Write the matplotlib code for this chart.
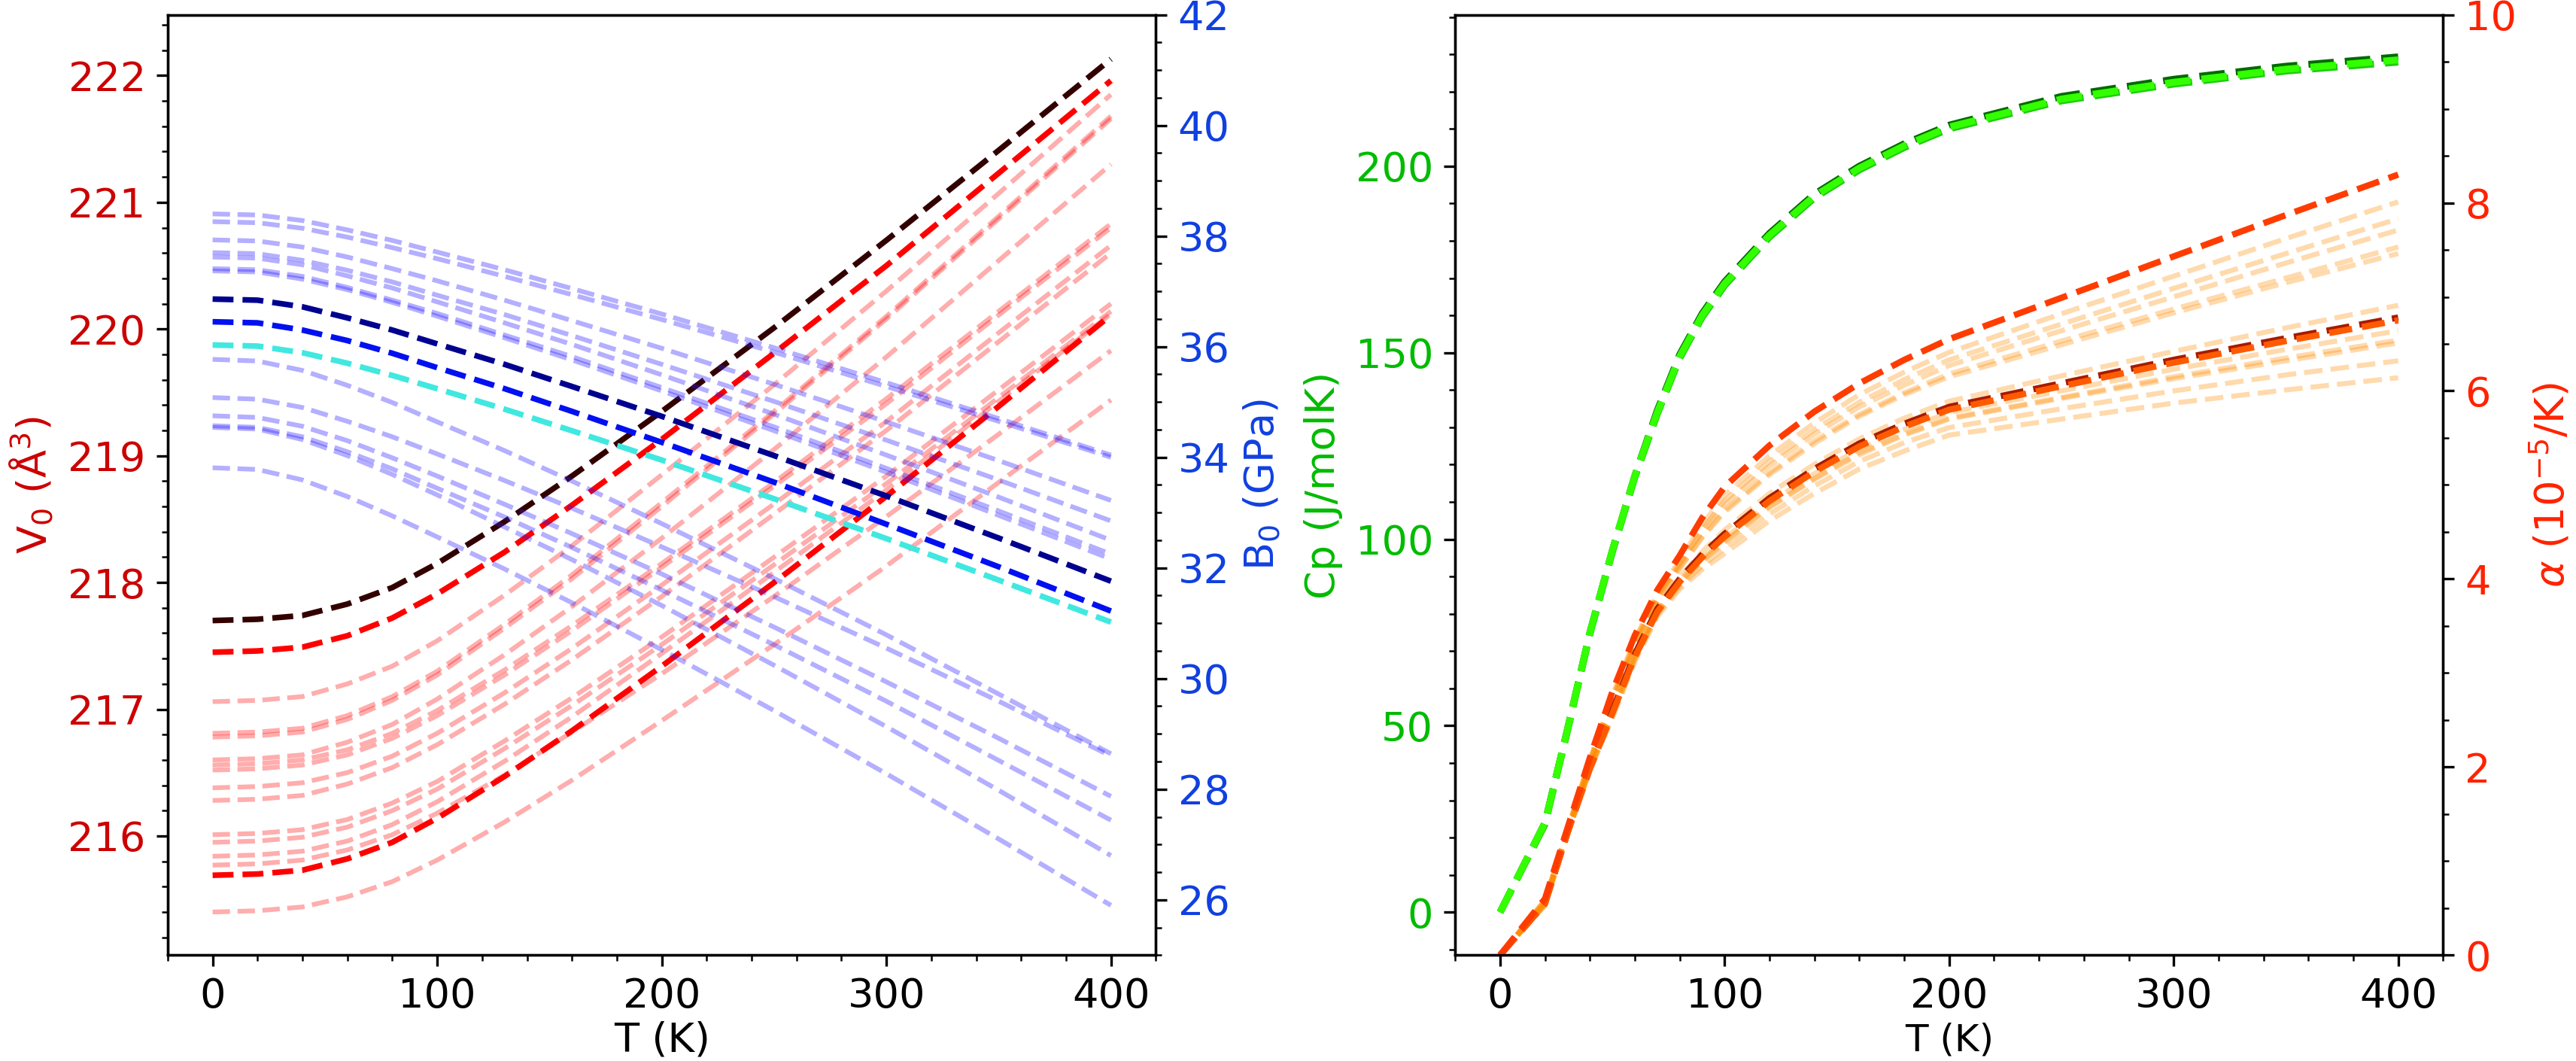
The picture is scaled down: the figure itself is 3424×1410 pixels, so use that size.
import matplotlib
matplotlib.use("Agg")
import matplotlib.pyplot as plt
from matplotlib.ticker import MultipleLocator

plt.rcParams['font.family'] = ['DejaVu Sans']
plt.rcParams['mathtext.fontset'] = 'dejavusans'

# ---------------- data: left panel (V0 and B0 vs T) ----------------
T_vb = [0, 20, 40, 60, 80, 100, 130, 160, 200, 250, 300, 350, 400]

V_dark = [217.70, 217.71, 217.74, 217.83, 217.96, 218.15, 218.48, 218.84, 219.35, 220.01, 220.70, 221.41, 222.13]
V_red_top = [217.45, 217.46, 217.49, 217.58, 217.72, 217.91, 218.24, 218.61, 219.13, 219.81, 220.50, 221.23, 221.96]
V_red_bot = [215.69, 215.70, 215.73, 215.82, 215.95, 216.14, 216.47, 216.83, 217.34, 218.00, 218.68, 219.39, 220.11]

V_light = [
    [217.06, 217.07, 217.10, 217.20, 217.34, 217.54, 217.90, 218.29, 218.85, 219.56, 220.30, 221.07, 221.85],
    [216.81, 216.82, 216.85, 216.95, 217.10, 217.30, 217.67, 218.06, 218.63, 219.35, 220.10, 220.89, 221.68],
    [216.78, 216.79, 216.82, 216.92, 217.07, 217.27, 217.64, 218.03, 218.60, 219.33, 220.08, 220.87, 221.66],
    [216.60, 216.61, 216.64, 216.74, 216.88, 217.08, 217.43, 217.81, 218.35, 219.05, 219.78, 220.54, 221.30],
    [216.56, 216.57, 216.60, 216.68, 216.81, 216.99, 217.31, 217.66, 218.15, 218.79, 219.45, 220.14, 220.83],
    [216.52, 216.53, 216.56, 216.64, 216.77, 216.95, 217.27, 217.62, 218.12, 218.76, 219.41, 220.11, 220.80],
    [216.38, 216.39, 216.42, 216.50, 216.63, 216.81, 217.13, 217.48, 217.98, 218.62, 219.27, 219.97, 220.66],
    [216.28, 216.29, 216.32, 216.41, 216.54, 216.72, 217.04, 217.39, 217.89, 218.54, 219.20, 219.90, 220.60],
    [216.01, 216.02, 216.05, 216.13, 216.26, 216.43, 216.75, 217.09, 217.57, 218.20, 218.84, 219.52, 220.20],
    [215.95, 215.96, 215.99, 216.07, 216.20, 216.37, 216.69, 217.03, 217.51, 218.14, 218.78, 219.46, 220.14],
    [215.84, 215.85, 215.88, 215.96, 216.09, 216.27, 216.59, 216.94, 217.44, 218.08, 218.73, 219.43, 220.12],
    [215.77, 215.78, 215.81, 215.89, 216.01, 216.18, 216.48, 216.82, 217.28, 217.89, 218.52, 219.17, 219.83],
    [215.40, 215.41, 215.44, 215.52, 215.64, 215.81, 216.11, 216.44, 216.91, 217.51, 218.13, 218.79, 219.44],
]

B_navy = [36.86, 36.84, 36.72, 36.52, 36.30, 36.05, 35.68, 35.28, 34.74, 34.03, 33.30, 32.54, 31.76]
B_blue = [36.45, 36.43, 36.30, 36.11, 35.88, 35.62, 35.24, 34.83, 34.27, 33.55, 32.79, 32.02, 31.22]
B_cyan = [36.03, 36.01, 35.89, 35.70, 35.48, 35.24, 34.87, 34.48, 33.95, 33.25, 32.53, 31.78, 31.02]

B_light = [
    [38.40, 38.38, 38.28, 38.11, 37.92, 37.71, 37.39, 37.05, 36.59, 35.98, 35.35, 34.70, 34.04],
    [38.26, 38.24, 38.14, 37.98, 37.79, 37.59, 37.27, 36.94, 36.49, 35.90, 35.28, 34.65, 34.00],
    [37.93, 37.91, 37.80, 37.62, 37.41, 37.19, 36.84, 36.47, 35.97, 35.32, 34.64, 33.94, 33.22],
    [37.70, 37.68, 37.56, 37.38, 37.17, 36.93, 36.58, 36.20, 35.68, 35.01, 34.31, 33.59, 32.85],
    [37.62, 37.60, 37.48, 37.28, 37.06, 36.81, 36.43, 36.04, 35.49, 34.78, 34.04, 33.28, 32.50],
    [37.41, 37.39, 37.27, 37.07, 36.84, 36.60, 36.21, 35.82, 35.26, 34.55, 33.80, 33.03, 32.25],
    [37.37, 37.35, 37.22, 37.03, 36.80, 36.55, 36.16, 35.76, 35.20, 34.48, 33.73, 32.95, 32.16],
    [35.77, 35.74, 35.57, 35.30, 34.99, 34.64, 34.12, 33.57, 32.80, 31.81, 30.79, 29.72, 28.64],
    [35.08, 35.05, 34.90, 34.65, 34.37, 34.06, 33.58, 33.08, 32.38, 31.48, 30.55, 29.59, 28.60],
    [34.75, 34.72, 34.56, 34.30, 33.99, 33.66, 33.15, 32.62, 31.89, 30.93, 29.94, 28.92, 27.87],
    [34.57, 34.54, 34.37, 34.10, 33.79, 33.44, 32.92, 32.37, 31.60, 30.61, 29.59, 28.52, 27.44],
    [34.54, 34.51, 34.32, 34.03, 33.69, 33.32, 32.74, 32.15, 31.32, 30.24, 29.13, 27.98, 26.80],
    [33.81, 33.78, 33.59, 33.29, 32.94, 32.56, 31.98, 31.37, 30.52, 29.42, 28.28, 27.10, 25.90],
]

# ---------------- data: right panel (Cp and alpha vs T) ----------------
T_cp = [0, 20, 30, 40, 50, 60, 70, 80, 90, 100, 120, 140, 160, 180, 200, 250, 300, 350, 400]
Cp_a = [0, 24, 49, 75, 97, 117, 134, 149, 160, 168.5, 181.5, 192, 199.5, 205.5, 210.5, 218, 222.5, 226, 228.5]
Cp_b = [0, 24, 49, 75, 97, 117, 134.5, 149.5, 160.5, 169, 182, 192.5, 200, 206, 211, 218.7, 223.3, 226.8, 229.3]
Cp_c = [0, 23.5, 48.5, 74.5, 96.5, 116.5, 133.5, 148.5, 159.5, 168, 181, 191.5, 199, 205, 210, 217.5, 222, 225.5, 227.9]

T_a = [0, 20, 30, 40, 50, 60, 70, 80, 90, 100, 120, 140, 160, 180, 200, 250, 300, 350, 400]
A_top = [0, 0.60, 1.35, 2.10, 2.80, 3.40, 3.88, 4.25, 4.65, 4.98, 5.42, 5.78, 6.08, 6.33, 6.55, 6.99, 7.43, 7.87, 8.30]
A_dark = [0, 0.55, 1.30, 2.00, 2.60, 3.20, 3.68, 4.00, 4.26, 4.48, 4.86, 5.17, 5.44, 5.65, 5.83, 6.08, 6.33, 6.56, 6.78]
A_orange = [0, 0.55, 1.30, 1.98, 2.57, 3.17, 3.65, 3.97, 4.23, 4.45, 4.83, 5.14, 5.41, 5.62, 5.80, 6.05, 6.30, 6.53, 6.75]
A_light = [
    [0, 0.59, 1.34, 2.08, 2.76, 3.36, 3.84, 4.20, 4.58, 4.89, 5.31, 5.66, 5.96, 6.20, 6.41, 6.82, 7.22, 7.62, 8.01],
    [0, 0.58, 1.33, 2.07, 2.74, 3.34, 3.82, 4.17, 4.53, 4.83, 5.25, 5.59, 5.88, 6.12, 6.33, 6.71, 7.09, 7.46, 7.83],
    [0, 0.58, 1.33, 2.06, 2.72, 3.32, 3.80, 4.15, 4.50, 4.79, 5.20, 5.54, 5.83, 6.06, 6.27, 6.64, 7.00, 7.36, 7.71],
    [0, 0.57, 1.32, 2.05, 2.70, 3.30, 3.78, 4.12, 4.45, 4.73, 5.13, 5.47, 5.75, 5.98, 6.18, 6.53, 6.87, 7.20, 7.53],
    [0, 0.57, 1.32, 2.05, 2.69, 3.29, 3.77, 4.11, 4.44, 4.71, 5.11, 5.44, 5.73, 5.96, 6.15, 6.49, 6.83, 7.15, 7.46],
    [0, 0.55, 1.30, 2.01, 2.62, 3.22, 3.70, 4.02, 4.29, 4.52, 4.91, 5.22, 5.49, 5.71, 5.89, 6.16, 6.42, 6.67, 6.91],
    [0, 0.55, 1.30, 1.99, 2.58, 3.18, 3.66, 3.98, 4.22, 4.43, 4.81, 5.12, 5.38, 5.59, 5.77, 6.00, 6.23, 6.44, 6.64],
    [0, 0.54, 1.29, 1.98, 2.57, 3.17, 3.65, 3.96, 4.20, 4.40, 4.77, 5.07, 5.34, 5.54, 5.71, 5.93, 6.15, 6.35, 6.54],
    [0, 0.54, 1.29, 1.98, 2.56, 3.16, 3.64, 3.95, 4.19, 4.39, 4.76, 5.06, 5.32, 5.53, 5.70, 5.92, 6.13, 6.32, 6.51],
    [0, 0.53, 1.28, 1.97, 2.54, 3.14, 3.62, 3.92, 4.14, 4.33, 4.69, 4.99, 5.25, 5.45, 5.61, 5.81, 6.00, 6.17, 6.32],
    [0, 0.53, 1.28, 1.96, 2.52, 3.12, 3.60, 3.89, 4.10, 4.27, 4.62, 4.91, 5.17, 5.36, 5.53, 5.70, 5.87, 6.01, 6.14],
]

# ---------------- colours ----------------
C_V = '#cc0000'
C_B = '#1040e0'
C_CP = '#00bb00'
C_A = '#ff2200'
FS = 13

fig = plt.figure(figsize=(3424 / 300, 1410 / 300), dpi=300)
ax1 = fig.add_axes([0.0651, 0.0998, 0.3836, 0.8863])
ax1b = ax1.twinx()
ax2 = fig.add_axes([0.5649, 0.0998, 0.3835, 0.8863])
ax2b = ax2.twinx()

# ---- left panel ----
for v in V_light:
    ax1.plot(T_vb, v, '--', color='red', alpha=0.32, lw=1.5)
ax1.plot(T_vb, V_red_bot, '--', color='red', lw=1.8)
ax1.plot(T_vb, V_red_top, '--', color='red', lw=1.8)
ax1.plot(T_vb, V_dark, '--', color='#330000', lw=1.8)

for b in B_light:
    ax1b.plot(T_vb, b, '--', color='#2a1aff', alpha=0.35, lw=1.5)
ax1b.plot(T_vb, B_cyan, '--', color='#40e8e0', lw=1.8)
ax1b.plot(T_vb, B_blue, '--', color='#0010f0', lw=1.8)
ax1b.plot(T_vb, B_navy, '--', color='#000090', lw=1.8)

ax1.set_xlim(-20, 420)
ax1.set_ylim(215.06, 222.48)
ax1b.set_ylim(25, 42)
ax1.xaxis.set_major_locator(MultipleLocator(100))
ax1.xaxis.set_minor_locator(MultipleLocator(20))
ax1.yaxis.set_major_locator(MultipleLocator(1))
ax1.yaxis.set_minor_locator(MultipleLocator(0.2))
ax1b.yaxis.set_major_locator(MultipleLocator(2))
ax1b.yaxis.set_minor_locator(MultipleLocator(0.5))
ax1.set_xlabel('T (K)', fontsize=FS, labelpad=1.5)
ax1.set_ylabel('V$_0$ (Å$^3$)', fontsize=FS, color=C_V)
ax1b.set_ylabel('B$_0$ (GPa)', fontsize=FS, color=C_B)
ax1.tick_params(axis='x', labelsize=FS)
ax1.tick_params(axis='y', labelsize=FS, labelcolor=C_V)
ax1b.tick_params(axis='y', labelsize=FS, labelcolor=C_B)

# ---- right panel ----
ax2.plot(T_cp, Cp_b, '--', color='#006a00', lw=2.2)
ax2.plot(T_cp, Cp_c, '--', color='#1fcc10', lw=2.2)
ax2.plot(T_cp, Cp_a, '--', color='#33ff00', lw=2.2)

for a in A_light:
    ax2b.plot(T_a, a, '--', color='#ff8c00', alpha=0.32, lw=1.6)
ax2b.plot(T_a, A_dark, '--', color='#a81a00', lw=2.0)
ax2b.plot(T_a, A_orange, '--', color='#ff5a00', lw=2.0)
ax2b.plot(T_a, A_top, '--', color='#ff3c00', lw=2.0)

ax2.set_xlim(-20, 420)
ax2.set_ylim(-11.5, 240.6)
ax2b.set_ylim(0, 10)
ax2.xaxis.set_major_locator(MultipleLocator(100))
ax2.xaxis.set_minor_locator(MultipleLocator(20))
ax2.yaxis.set_major_locator(MultipleLocator(50))
ax2.yaxis.set_minor_locator(MultipleLocator(10))
ax2b.yaxis.set_major_locator(MultipleLocator(2))
ax2b.yaxis.set_minor_locator(MultipleLocator(0.5))
ax2.set_xlabel('T (K)', fontsize=12, labelpad=2.0)
ax2.set_ylabel('Cp (J/molK)', fontsize=FS, color=C_CP)
ax2b.set_ylabel(r'$\alpha$ (10$^{-5}$/K)', fontsize=FS, color=C_A)
ax2.tick_params(axis='x', labelsize=FS)
ax2.tick_params(axis='y', labelsize=FS, labelcolor=C_CP)
ax2b.tick_params(axis='y', labelsize=FS, labelcolor=C_A)

fig.savefig('out.png', dpi=300)
